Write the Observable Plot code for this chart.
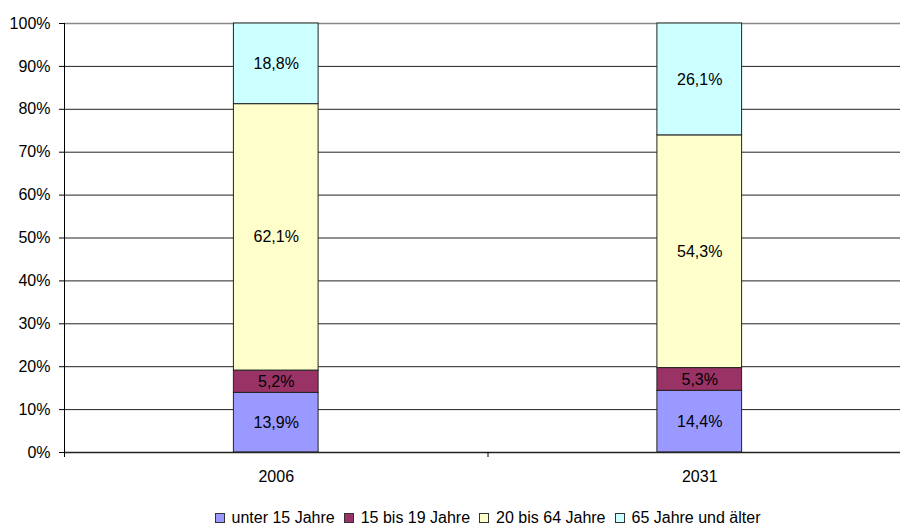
<!DOCTYPE html>
<html><head><meta charset="utf-8">
<script src="https://cdn.jsdelivr.net/npm/d3@7"></script>
<script src="https://cdn.jsdelivr.net/npm/@observablehq/plot@0.6"></script>
<style>
body{margin:0;overflow:hidden;background:#fff;font-family:"Liberation Sans",Arial,sans-serif;width:900px}
#chart svg{max-width:none !important}
#legend{position:absolute;top:508px;left:64px;width:847px;text-align:center;font-size:16px;line-height:20px;color:#000;white-space:nowrap}
#legend span.item{margin:0 9px 0 0}
#legend span.item:last-child{margin-right:0}
#legend span.sw{display:inline-block;width:8px;height:8px;border:1px solid #333;margin-right:7px;vertical-align:0px}
</style></head><body><div id="chart"></div><div id="legend"></div>
<script>
const years = ["2006", "2031"];
const groups = ["unter 15 Jahre", "15 bis 19 Jahre", "20 bis 64 Jahre", "65 Jahre und älter"];
const values2006 = [13.9, 5.2, 62.1, 18.8];
const values2031 = [14.4, 5.3, 54.3, 26.1];
const colors = ["#9999FF", "#993366", "#FFFFCC", "#CCFFFF"];
const yTicks = [0, 0.1, 0.2, 0.3, 0.4, 0.5, 0.6, 0.7, 0.8, 0.9, 1];

const data = [];
[values2006, values2031].forEach((vals, i) => {
  const total = d3.sum(vals);
  let acc = 0;
  vals.forEach((v, j) => {
    data.push({year: years[i], idx: i, group: groups[j], value: v, y1: acc / total, y2: (acc + v) / total});
    acc += v;
  });
});

const fmt = v => v.toFixed(1).replace(".", ",") + "%";

const chart = Plot.plot({
  width: 911,
  height: 495,
  marginLeft: 64,
  marginRight: 0,
  marginTop: 23,
  marginBottom: 43,
  style: {fontFamily: "'Liberation Sans', Arial, sans-serif", fontSize: "16px", background: "#fff", color: "#000", overflow: "visible", maxWidth: "none"},
  x: {type: "linear", domain: [0, years.length]},
  y: {domain: [0, 1]},
  color: {domain: groups, range: colors},
  marks: [
    Plot.ruleY(yTicks.filter(d => d > 0 && d < 1), {stroke: "#222", strokeWidth: 1}),
    Plot.ruleY([1], {stroke: "#888", strokeWidth: 1.5}),
    Plot.rect(data, {x1: d => d.idx + 0.4, x2: d => d.idx + 0.6, y1: "y1", y2: "y2", fill: "group", stroke: "#222", strokeWidth: 1}),
    Plot.text(data, {x: d => d.idx + 0.5, y: d => (d.y1 + d.y2) / 2, text: d => fmt(d.value), fill: "#000", fontSize: 16}),
    Plot.ruleY([0], {stroke: "#222", strokeWidth: 1.5}),
    Plot.ruleX([0], {stroke: "#000", strokeWidth: 1}),
    Plot.axisY({ticks: yTicks, tickSize: 5, tickPadding: 9, tickFormat: d => Math.round(d * 100) + "%", fontSize: 16, stroke: "#000", label: null}),
    Plot.axisX({ticks: [0, 1, 2], tickSize: 5, tickFormat: () => "", stroke: "#000", label: null}),
    Plot.text(years, {x: (d, i) => i + 0.5, y: 0, dy: 24, text: d => d, fill: "#000", fontSize: 16})
  ]
});
document.getElementById("chart").appendChild(chart);

const legend = document.getElementById("legend");
legend.innerHTML = groups.map((g, i) => `<span class="item"><span class="sw" style="background:${colors[i]}"></span>${g}</span>`).join("");
</script>
</body></html>
